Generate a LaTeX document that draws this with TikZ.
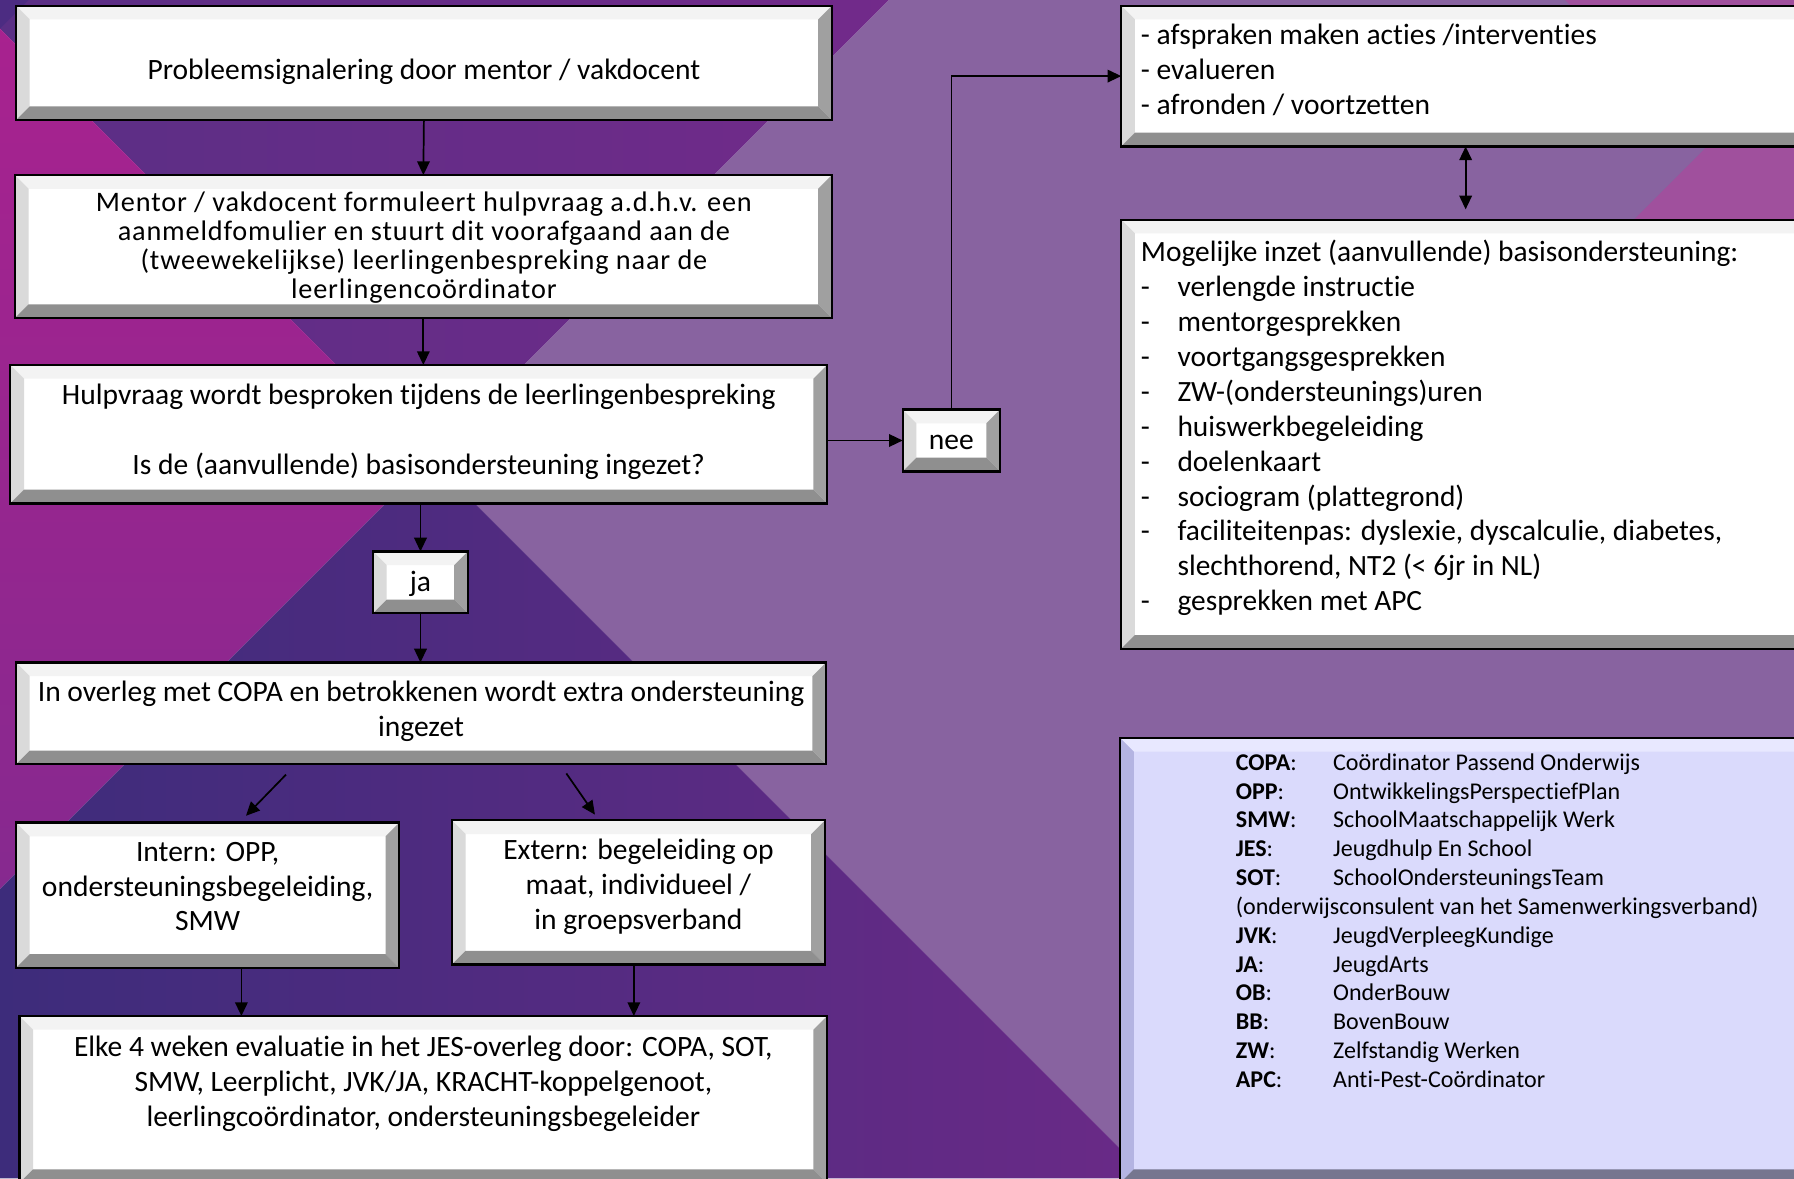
\documentclass[tikz,border=0pt]{standalone}
\usepackage{fontspec}
\setmainfont{Carlito}[Ligatures={NoCommon}]
\newfontfamily\spacedfont{Carlito}[LetterSpace=3,Ligatures={NoCommon}]
\usetikzlibrary{arrows.meta,fit}
\definecolor{magA}{HTML}{A8228F}
\definecolor{magB}{HTML}{86298F}
\definecolor{topA}{HTML}{5A2F85}
\definecolor{topB}{HTML}{722A8A}
\definecolor{botA}{HTML}{3D2C7B}
\definecolor{botB}{HTML}{6A2A87}
\definecolor{lav}{HTML}{8863A0}
\definecolor{pinkr}{HTML}{A0509D}
\definecolor{cornr}{HTML}{4C2C82}
\definecolor{bvT}{HTML}{F3F3F3}
\definecolor{bvL}{HTML}{DADADA}
\definecolor{bvR}{HTML}{A0A0A0}
\definecolor{bvB}{HTML}{8F8F8F}
\definecolor{lgF}{HTML}{DADAFC}
\definecolor{lgT}{HTML}{E8E8FF}
\definecolor{lgL}{HTML}{B4B4E2}
\definecolor{lgR}{HTML}{A0A0C8}
\definecolor{lgB}{HTML}{76768F}
\newcommand\bevelpaint[4]{%
  \path (path picture bounding box.north west) coordinate (bA)
        (path picture bounding box.north east) coordinate (bB)
        (path picture bounding box.south east) coordinate (bC)
        (path picture bounding box.south west) coordinate (bD);
  \path ([xshift=12pt,yshift=-12pt]bA) coordinate (iA)
        ([xshift=-12pt,yshift=-12pt]bB) coordinate (iB)
        ([xshift=-12pt,yshift=12pt]bC) coordinate (iC)
        ([xshift=12pt,yshift=12pt]bD) coordinate (iD);
  \fill[#1] (bA)--(bB)--(iB)--(iA)--cycle;
  \fill[#2] (bA)--(iA)--(iD)--(bD)--cycle;
  \fill[#3] (bB)--(bC)--(iC)--(iB)--cycle;
  \fill[#4] (bD)--(bC)--(iC)--(iD)--cycle;
}
\begin{document}
\begin{tikzpicture}[x=1pt,y=-1pt,
  bevelbase/.style={draw=black, line width=2pt, inner sep=0pt, outer sep=0pt},
  bevelbox/.style={bevelbase, fill=white, path picture={\bevelpaint{bvT}{bvL}{bvR}{bvB}}},
  legendbox/.style={bevelbase, fill=lgF, path picture={\bevelpaint{lgT}{lgL}{lgR}{lgB}}},
  maintext/.style={inner sep=0pt, anchor=north, align=center, font=\fontsize{25.8}{30.5}\selectfont, execute at begin node=\strut},
  lefttext/.style={maintext, anchor=north west, align=left},
  legendtext/.style={inner sep=0pt, anchor=north west, font=\fontsize{21}{25.2}\selectfont},
  conn/.style={line width=1.5pt, -{Triangle[length=12pt,width=11pt]}},
  dconn/.style={line width=1.5pt, {Triangle[length=12pt,width=11pt]}-{Triangle[length=12pt,width=11pt]}}
]
\useasboundingbox (0,0) rectangle (1568,1030);
\clip (0,0) rectangle (1568,1030);
% ---------- background ----------
\shade[left color=topA, right color=topB] (0,0) -- (777,0) -- (376,401) -- (0,25) -- cycle;
\shade[top color=magA, bottom color=magB] (0,25) -- (376,401) -- (0,777) -- cycle;
\fill[lav] (777,0) -- (1568,0) -- (1568,1030) -- (1005,1030) -- (376,401) -- cycle;
\shade[left color=botA, right color=botB] (0,777) -- (376,401) -- (1005,1030) -- (0,1030) -- cycle;
\fill[cornr] (0,0) -- (25,0) -- (0,25) -- cycle;
\fill[pinkr] (1368,0) -- (1568,0) -- (1568,250) -- (1370,250) -- (1491,129) -- cycle;
% ---------- boxes ----------
\node[bevelbox, fit={(14,5) (727,105)}] (b1) {};
\node[bevelbox, fit={(13,153) (727,278)}] (b2) {};
\node[bevelbox, fit={(9,319) (723,440)}] (b3) {};
\node[bevelbox, fit={(326,482) (409,536)}] (ja) {};
\node[bevelbox, fit={(14,579) (722,668)}] (b4) {};
\node[bevelbox, fit={(14,719) (349,846)}] (ib) {};
\node[bevelbox, fit={(395,717) (721,843)}] (eb) {};
\node[bevelbox, fit={(17,888) (723,1034)}] (b6) {};
\node[bevelbox, fit={(789,358) (874,412)}] (nee) {};
\node[bevelbox, fit={(980,5) (1600,128)}] (rb1) {};
\node[bevelbox, fit={(980,192) (1600,567)}] (rb2) {};
\node[legendbox, fit={(979,645) (1600,1034)}] (lg) {};
% ---------- texts ----------
\node[maintext] (t1) at (370.5,48) {Probleemsignalering door mentor / vakdocent};
\node[maintext, font=\fontsize{24.7}{25.3}\spacedfont] (t2) at (370.5,167.5)
  {Mentor / vakdocent formuleert hulpvraag a.d.h.v. een\\
   aanmeldfomulier en stuurt dit voorafgaand aan de\\
   (tweewekelijkse) leerlingenbespreking naar de\\
   leerlingencoördinator};
\node[maintext] (t3) at (366,335.2)
  {Hulpvraag wordt besproken tijdens de leerlingenbespreking\\[30.5pt]
   Is de (aanvullende) basisondersteuning ingezet?};
\node[maintext] (tja) at (367.5,495.2) {ja};
\node[maintext] (tnee) at (831.5,371.5) {nee};
\node[maintext] (t4) at (368,595)
  {In overleg met COPA en betrokkenen wordt extra ondersteuning\\ ingezet};
\node[maintext] (tib) at (181.5,735.7)
  {Intern: OPP,\\ ondersteuningsbegeleiding,\\ SMW};
\node[maintext] (teb) at (558,733)
  {Extern: begeleiding op\\ maat, individueel /\\ in groepsverband};
\node[maintext] (t6) at (370,905.7)
  {Elke 4 weken evaluatie in het JES-overleg door: COPA, SOT,\\
   SMW, Leerplicht, JVK/JA, KRACHT-koppelgenoot,\\
   leerlingcoördinator, ondersteuningsbegeleider};
\node[lefttext] (tr1) at (997,21)
  {- afspraken maken acties /interventies\\
   - evalueren\\
   - afronden / voortzetten};
\node[lefttext, font=\fontsize{25.7}{30.5}\selectfont] (tr2) at (997,209.8)
  {Mogelijke inzet (aanvullende) basisondersteuning:\\
   \makebox[32pt][l]{-}verlengde instructie\\
   \makebox[32pt][l]{-}mentorgesprekken\\
   \makebox[32pt][l]{-}voortgangsgesprekken\\
   \makebox[32pt][l]{-}ZW-(ondersteunings)uren\\
   \makebox[32pt][l]{-}huiswerkbegeleiding\\
   \makebox[32pt][l]{-}doelenkaart\\
   \makebox[32pt][l]{-}sociogram (plattegrond)\\
   \makebox[32pt][l]{-}faciliteitenpas: dyslexie, dyscalculie, diabetes,\\
   \hspace*{32pt}slechthorend, NT2 (< 6jr in NL)\\
   \makebox[32pt][l]{-}gesprekken met APC};
\node[legendtext] (tlg) at (1080,655.4) {%
  \begin{tabular}{@{}p{85pt}@{}l@{}}
  \textbf{COPA}: & Coördinator Passend Onderwijs\\
  \textbf{OPP}: & OntwikkelingsPerspectiefPlan\\
  \textbf{SMW}: & SchoolMaatschappelijk Werk\\
  \textbf{JES}: & Jeugdhulp En School\\
  \textbf{SOT}: & SchoolOndersteuningsTeam\\
  \multicolumn{2}{@{}l@{}}{(onderwijsconsulent van het Samenwerkingsverband)}\\
  \textbf{JVK}: & JeugdVerpleegKundige\\
  \textbf{JA}: & JeugdArts\\
  \textbf{OB}: & OnderBouw\\
  \textbf{BB}: & BovenBouw\\
  \textbf{ZW}: & Zelfstandig Werken\\
  \textbf{APC}: & Anti-Pest-Coördinator
  \end{tabular}};
% ---------- connectors ----------
\coordinate (xi) at (211,0);
\coordinate (xe) at (554,0);
\coordinate (d1s) at (250,677);
\coordinate (d1e) at (215,713);
\coordinate (d2s) at (495,676);
\coordinate (d2e) at (520,712);
\coordinate (dblend) at (1281,183);
\draw[conn] (b1.south) -- (b2.north);
\draw[conn] (b2.south) -- (b2.south |- b3.north);
\draw[conn] (ja.north |- b3.south) -- (ja.north);
\draw[conn] (ja.south) -- (ja.south |- b4.north);
\draw[conn] (d1s) -- (d1e);
\draw[conn] (d2s) -- (d2e);
\draw[conn] (ib.south -| xi) -- (b6.north -| xi);
\draw[conn] (eb.south -| xe) -- (b6.north -| xe);
\draw[conn] (b3.east |- nee.west) -- (nee.west);
\draw[conn] (nee.north) |- (rb1.west);
\draw[dconn] (rb1.south -| dblend) -- (dblend);
\end{tikzpicture}
\end{document}
